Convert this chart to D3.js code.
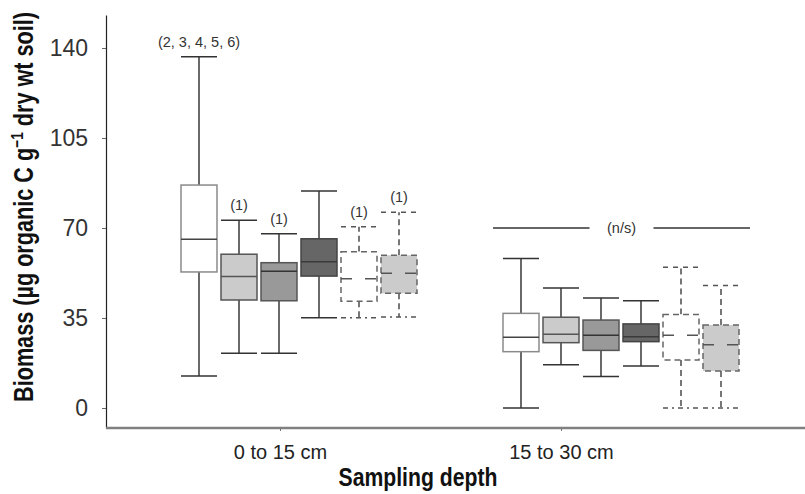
<!DOCTYPE html>
<html>
<head>
<meta charset="utf-8">
<script src="https://cdn.jsdelivr.net/npm/d3@7"></script>
<style>
  html, body { margin: 0; padding: 0; background: #fff; }
  svg { display: block; }
</style>
</head>
<body>
<svg id="chart" width="805" height="494"></svg>
<script>
// ---- data ----
const depths = ["0 to 15 cm", "15 to 30 cm"];
const treatments = ["1", "2", "3", "4", "5", "6"];
const whiskerLow  = [[12.4, 21.3, 21.3, 35.1, 35.1, 35.4], [0.0, 16.8, 12.2, 16.3, 0.0, 0.0]];
const q1          = [[52.9, 42.0, 41.7, 51.3, 41.5, 44.6], [21.9, 25.4, 22.4, 25.8, 18.7, 14.4]];
const median      = [[65.6, 51.1, 53.2, 56.9, 50.3, 52.4], [27.5, 28.7, 28.3, 27.7, 28.3, 24.6]];
const q3          = [[86.7, 59.8, 56.5, 65.8, 60.8, 59.4], [36.8, 35.3, 34.2, 32.7, 36.4, 32.3]];
const whiskerHigh = [[136.6, 73.0, 67.8, 84.4, 70.5, 76.1], [58.1, 46.7, 42.8, 41.7, 54.7, 47.6]];
const boxLabels   = [["(2, 3, 4, 5, 6)", "(1)", "(1)", "", "(1)", "(1)"], ["", "", "", "", "", ""]];
const yTicks = [0, 35, 70, 105, 140];
const nsValue = 70;
const nsLabel = "(n/s)";
const yTitle = "Biomass (µg organic C g";
const yTitleSup = "−1";
const yTitleEnd = " dry wt soil)";
const xTitle = "Sampling depth";

// ---- styles per treatment ----
const fills   = ["#ffffff", "#cbcbcb", "#999999", "#666666", "#ffffff", "#cbcbcb"];
const strokes = ["#8a8a8a", "#555555", "#555555", "#444444", "#666666", "#666666"];
const medCol  = ["#444444", "#555555", "#333333", "#3a3a3a", "#555555", "#555555"];
const dashed  = [false, false, false, false, true, true];

const svg = d3.select("#chart");
const FONT = "'Liberation Sans', Arial, sans-serif";

const y = d3.scaleLinear().domain([-7.78, 152.83]).range([428, 15]);
const groupStart = d3.scalePoint().domain(depths).range([181, 503]);
const inner = d3.scaleBand().domain(treatments).range([0, 236]).paddingInner(0.1).paddingOuter(0);
const xTick = d3.scalePoint().domain(depths).range([280, 561]);

const bw = inner.bandwidth();

// axes
const yAxis = d3.axisLeft(y).tickValues(yTicks).tickSize(4).tickSizeOuter(0).tickPadding(14);
const gy = svg.append("g").attr("transform", "translate(106,0)").call(yAxis);
gy.attr("font-size", null).attr("font-family", null);
gy.select(".domain").attr("stroke", "#222").attr("stroke-width", 1.2);
gy.selectAll(".tick line").attr("stroke", "#666");
gy.selectAll(".tick text").style("font-family", FONT)
  .style("font-size", "23px").attr("fill", "#333");

const xAxis = d3.axisBottom(xTick).tickSize(3).tickSizeOuter(0).tickPadding(14);
const gx = svg.append("g").attr("transform", "translate(0,428)").call(xAxis);
gx.attr("font-size", null).attr("font-family", null);
gx.select(".domain").remove();
gx.insert("line", ":first-child").attr("x1", 106).attr("x2", 805).attr("y1", 0).attr("y2", 0)
  .attr("stroke", "#808080").attr("stroke-width", 2.4);
gx.selectAll(".tick line").attr("stroke", "#777");
gx.selectAll(".tick text").style("font-family", FONT)
  .style("font-size", "20px").attr("fill", "#222").attr("dy", "0.68em");

// boxes
const rows = [];
depths.forEach((d, g) => treatments.forEach((t, i) => rows.push({d, g, t, i})));

const boxes = svg.append("g").selectAll("g").data(rows).join("g")
  .attr("transform", r => `translate(${groupStart(r.d) + inner(r.t)},0)`);

const dash = r => dashed[r.i] ? "6,4" : null;

// whisker stems
boxes.append("line")
  .attr("x1", bw / 2).attr("x2", bw / 2)
  .attr("y1", r => y(q3[r.g][r.i])).attr("y2", r => y(whiskerHigh[r.g][r.i]))
  .attr("stroke", r => dashed[r.i] ? "#555" : "#444").attr("stroke-width", 1.6)
  .attr("stroke-dasharray", dash);
boxes.append("line")
  .attr("x1", bw / 2).attr("x2", bw / 2)
  .attr("y1", r => y(q1[r.g][r.i])).attr("y2", r => y(whiskerLow[r.g][r.i]))
  .attr("stroke", r => dashed[r.i] ? "#555" : "#444").attr("stroke-width", 1.6)
  .attr("stroke-dasharray", dash);
// caps
boxes.append("line")
  .attr("x1", 0).attr("x2", bw)
  .attr("y1", r => y(whiskerHigh[r.g][r.i])).attr("y2", r => y(whiskerHigh[r.g][r.i]))
  .attr("stroke", r => dashed[r.i] ? "#555" : "#333").attr("stroke-width", 1.5)
  .attr("stroke-dasharray", r => dashed[r.i] ? "5,5" : null);
boxes.append("line")
  .attr("x1", 0).attr("x2", bw)
  .attr("y1", r => y(whiskerLow[r.g][r.i])).attr("y2", r => y(whiskerLow[r.g][r.i]))
  .attr("stroke", r => dashed[r.i] ? "#555" : "#333").attr("stroke-width", 1.5)
  .attr("stroke-dasharray", r => dashed[r.i] ? "5,4,2,4" : null);
// box
boxes.append("rect")
  .attr("x", 0).attr("width", bw)
  .attr("y", r => y(q3[r.g][r.i]))
  .attr("height", r => y(q1[r.g][r.i]) - y(q3[r.g][r.i]))
  .attr("fill", r => fills[r.i]).attr("stroke", r => strokes[r.i]).attr("stroke-width", 1.5)
  .attr("stroke-dasharray", dash);
// median
boxes.append("line")
  .attr("x1", 0).attr("x2", bw)
  .attr("y1", r => y(median[r.g][r.i])).attr("y2", r => y(median[r.g][r.i]))
  .attr("stroke", r => medCol[r.i]).attr("stroke-width", 1.5)
  .attr("stroke-dasharray", r => dashed[r.i] ? "11,13" : null);
// labels
boxes.filter(r => boxLabels[r.g][r.i] !== "").append("text")
  .attr("x", bw / 2).attr("y", r => y(whiskerHigh[r.g][r.i]) - 10)
  .attr("text-anchor", "middle")
  .style("font-family", FONT).style("font-size", "14.5px")
  .attr("fill", "#333").text(r => boxLabels[r.g][r.i]);

// n/s marker over second group
const g2 = depths[1];
const nsX0 = groupStart(g2) - 10;
const nsX1 = groupStart(g2) + inner.range()[1] + 11;
const nsMid = (nsX0 + nsX1) / 2;
svg.append("line").attr("x1", nsX0).attr("x2", nsMid - 32).attr("y1", y(nsValue)).attr("y2", y(nsValue))
  .attr("stroke", "#333").attr("stroke-width", 1.6);
svg.append("line").attr("x1", nsMid + 32).attr("x2", nsX1).attr("y1", y(nsValue)).attr("y2", y(nsValue))
  .attr("stroke", "#333").attr("stroke-width", 1.6);
svg.append("text").attr("x", nsMid).attr("y", y(nsValue)).attr("dy", "0.35em")
  .attr("text-anchor", "middle")
  .style("font-family", FONT).style("font-size", "14.5px")
  .attr("fill", "#333").text(nsLabel);

// titles
const yt = svg.append("text")
  .attr("transform", "translate(33,207) rotate(-90)")
  .attr("text-anchor", "middle")
  .attr("textLength", 390).attr("lengthAdjust", "spacingAndGlyphs")
  .style("font-family", FONT).style("font-weight", "bold").style("font-size", "27px")
  .attr("fill", "#111");
yt.append("tspan").text(yTitle);
yt.append("tspan").style("font-size", "17px").attr("dy", -10).text(yTitleSup);
yt.append("tspan").attr("dy", 10).text(yTitleEnd);

svg.append("text").attr("x", 418).attr("y", 486).attr("text-anchor", "middle")
  .attr("textLength", 159).attr("lengthAdjust", "spacingAndGlyphs")
  .style("font-family", FONT).style("font-weight", "bold").style("font-size", "25px")
  .attr("fill", "#111").text(xTitle);
</script>
</body>
</html>
